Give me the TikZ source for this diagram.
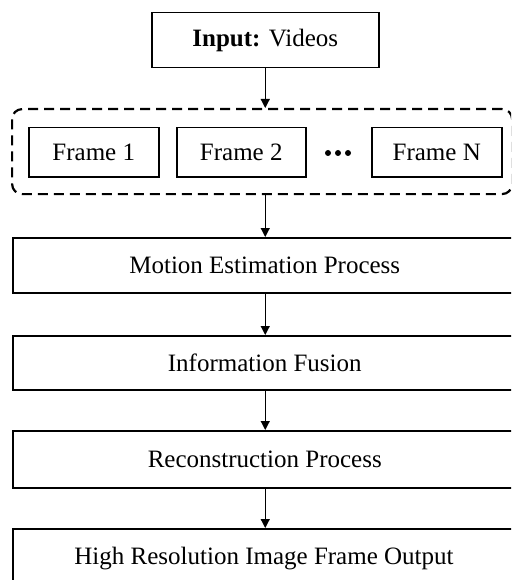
\documentclass[tikz,border=0pt]{standalone}
\usepackage{fontspec}
\setmainfont{Liberation Serif}
\usetikzlibrary{arrows.meta}
\begin{document}
\begin{tikzpicture}[x=1pt,y=-1pt,
  box/.style={draw=black, line width=1.5pt, inner sep=0pt, font=\fontsize{25}{28}\selectfont, anchor=north west},
  arr/.style={line width=1.2pt, -{Triangle[length=9pt,width=9pt]}},
  dot/.style={circle, fill=black, inner sep=0pt, minimum size=6pt}]
\useasboundingbox (0,0) rectangle (511,580);
\clip (0,0) rectangle (511,580);
\node[box, minimum width=227pt, minimum height=55pt] (inp) at (151,12) {\textbf{Input:} Videos};
\node[draw=black, line width=2.2pt, dash pattern=on 10pt off 6pt, rounded corners=10pt, anchor=north west,
  minimum width=500pt, minimum height=85pt, inner sep=0pt] (grp) at (11,108) {};
\node[box, minimum width=130pt, minimum height=49pt] (f1) at (28,127) {Frame 1};
\node[box, minimum width=129pt, minimum height=49pt] (f2) at (176,127) {Frame 2};
\node[box, minimum width=130pt, minimum height=49pt] (fn) at (371,127) {Frame N};
\node[dot] (d1) at (328,153) {};
\node[dot] (d2) at (338,153) {};
\node[dot] (d3) at (348,153) {};
\node[box, minimum width=504pt, minimum height=55pt] (me) at (12,237) {Motion Estimation Process};
\node[box, minimum width=504pt, minimum height=54pt] (inf) at (12,335) {Information Fusion};
\node[box, minimum width=504pt, minimum height=57pt] (rec) at (12,430) {Reconstruction Process};
\node[box, minimum width=504pt, minimum height=70pt] (out) at (12,528) {};
\node[font=\fontsize{25}{28}\selectfont] (outt) at (264,559) {High Resolution Image Frame Output};
\draw[arr] (inp.south) -- (inp.south |- grp.north);
\draw[arr] (inp.south |- grp.south) -- (inp.south |- me.north);
\draw[arr] (inp.south |- me.south) -- (inp.south |- inf.north);
\draw[arr] (inp.south |- inf.south) -- (inp.south |- rec.north);
\draw[arr] (inp.south |- rec.south) -- (inp.south |- out.north);
\end{tikzpicture}
\end{document}
